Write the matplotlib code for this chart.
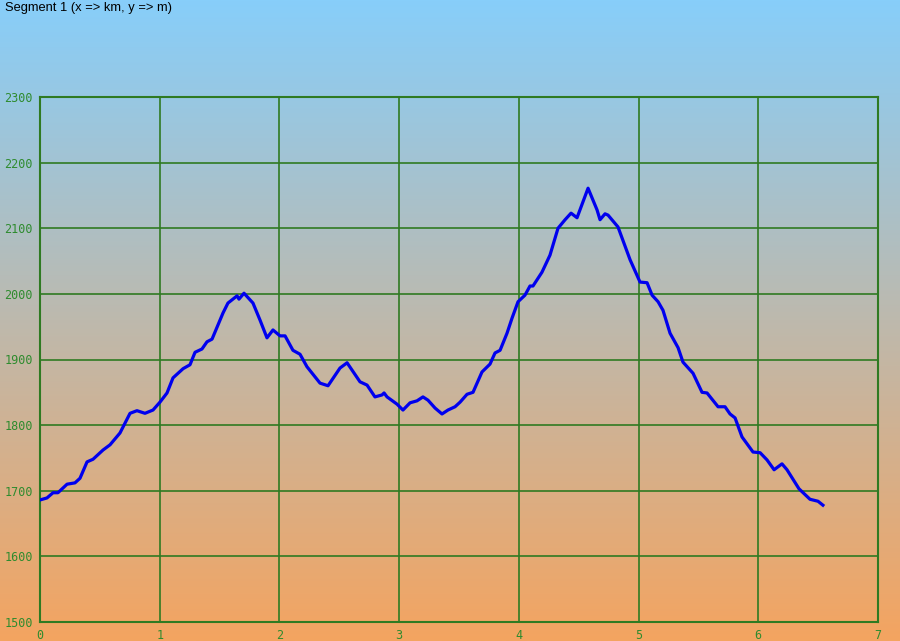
import matplotlib
matplotlib.use('Agg')
import matplotlib.pyplot as plt
import numpy as np
from matplotlib.colors import LinearSegmentedColormap

# distance (km) and elevation (m)
dist_km = [0.000, 0.058, 0.109, 0.150, 0.226, 0.292, 0.334, 0.393, 0.443, 0.526,
           0.585, 0.668, 0.752, 0.810, 0.877, 0.944, 1.002, 1.061, 1.111, 1.195,
           1.253, 1.295, 1.353, 1.395, 1.437, 1.529, 1.570, 1.646, 1.662, 1.704,
           1.779, 1.838, 1.896, 1.946, 2.005, 2.047, 2.113, 2.172, 2.230, 2.339,
           2.406, 2.506, 2.565, 2.606, 2.673, 2.732, 2.798, 2.857, 2.874, 2.899,
           2.982, 3.032, 3.091, 3.149, 3.199, 3.241, 3.300, 3.358, 3.408, 3.467,
           3.509, 3.567, 3.617, 3.692, 3.759, 3.801, 3.843, 3.901, 3.943, 3.993,
           4.051, 4.093, 4.118, 4.193, 4.260, 4.327, 4.386, 4.436, 4.486, 4.578,
           4.653, 4.678, 4.720, 4.745, 4.828, 4.929, 5.012, 5.071, 5.113, 5.163,
           5.204, 5.263, 5.330, 5.371, 5.455, 5.530, 5.572, 5.664, 5.722, 5.764,
           5.806, 5.864, 5.956, 6.015, 6.073, 6.132, 6.198, 6.240, 6.340, 6.432,
           6.499, 6.540]
elev_m = [1686, 1689, 1697, 1697, 1710, 1712, 1719, 1744, 1748, 1762,
          1770, 1788, 1818, 1822, 1818, 1823, 1835, 1849, 1872, 1886,
          1892, 1911, 1916, 1927, 1931, 1971, 1986, 1997, 1992, 2001,
          1986, 1960, 1933, 1945, 1936, 1936, 1914, 1908, 1889, 1864,
          1860, 1887, 1895, 1884, 1866, 1861, 1843, 1846, 1849, 1843,
          1832, 1823, 1834, 1837, 1843, 1838, 1826, 1817, 1823, 1828,
          1835, 1847, 1850, 1881, 1893, 1910, 1914, 1940, 1963, 1988,
          1998, 2012, 2012, 2033, 2059, 2100, 2113, 2123, 2116, 2161,
          2128, 2113, 2122, 2120, 2102, 2052, 2018, 2017, 1998, 1988,
          1975, 1940, 1918, 1896, 1879, 1850, 1849, 1828, 1828, 1817,
          1811, 1782, 1759, 1758, 1747, 1732, 1741, 1732, 1703, 1687,
          1684, 1678]

x_ticks = [0, 1, 2, 3, 4, 5, 6, 7]
y_ticks = [1500, 1600, 1700, 1800, 1900, 2000, 2100, 2200, 2300]

grid_col = '#2f7a22'
label_col = '#2e8b2e'

fig = plt.figure(figsize=(9, 6.41), dpi=100)

# gradient background over the whole figure
bg = fig.add_axes([0, 0, 1, 1], zorder=0)
cmap = LinearSegmentedColormap.from_list('sky', ['#87CEFA', '#F4A460'])
bg.imshow(np.linspace(0, 1, 256).reshape(-1, 1), aspect='auto', cmap=cmap,
          extent=[0, 1, 0, 1], origin='upper')
bg.axis('off')

ax = fig.add_axes([40 / 900, 1 - 622 / 641, 838 / 900, 525 / 641], zorder=1)
ax.patch.set_alpha(0)
ax.set_xlim(0, 7)
ax.set_ylim(1500, 2300)
ax.set_xticks(x_ticks)
ax.set_yticks(y_ticks)
ax.grid(True, color=grid_col, linewidth=1.2)
ax.set_axisbelow(True)
for s in ax.spines.values():
    s.set_color(grid_col)
    s.set_linewidth(1.5)
ax.tick_params(length=0, colors=label_col, labelsize=8.5, pad=5)
for lab in ax.get_xticklabels() + ax.get_yticklabels():
    lab.set_family('DejaVu Sans Mono')

ax.plot(dist_km, elev_m, color='#0000ee', linewidth=2.3, solid_joinstyle='round', zorder=3)

fig.text(5 / 900, 1 - 8 / 641, 'Segment 1 (x => km, y => m)', fontsize=9.3,
         family='Liberation Sans', color='black', va='center', ha='left')

fig.savefig('out.png', dpi=100)
